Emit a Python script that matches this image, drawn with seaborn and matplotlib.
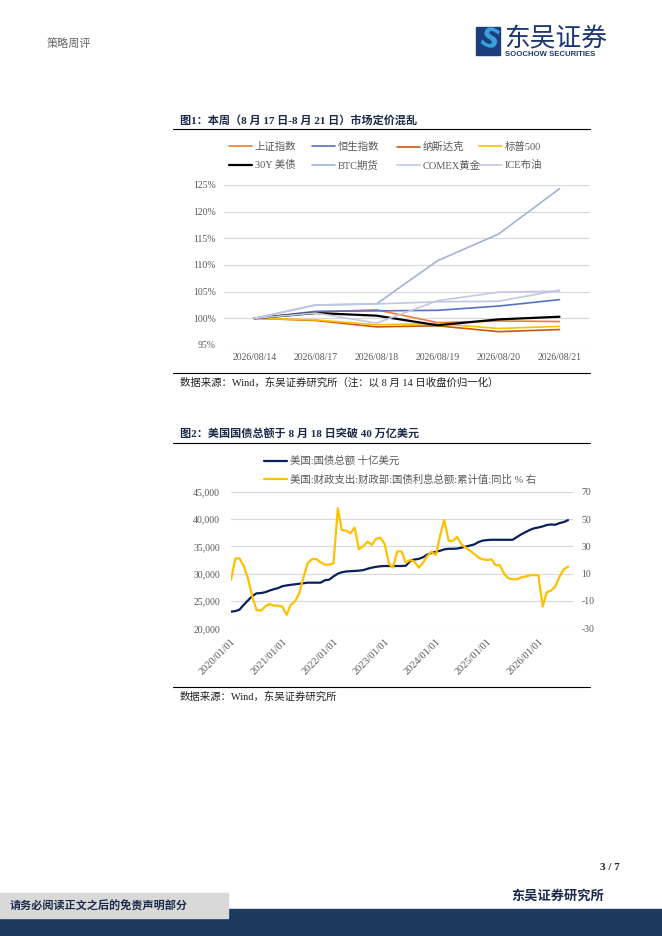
import matplotlib
matplotlib.use("Agg")
import matplotlib.pyplot as plt
import matplotlib.dates as mdates
from matplotlib.patches import Rectangle, Polygon
from matplotlib.lines import Line2D
from matplotlib.ticker import FuncFormatter
import pandas as pd
import seaborn as sns

# ---- 图1 data: normalised to 8/14 close (%) ----
days = ["2026/08/14", "2026/08/17", "2026/08/18", "2026/08/19", "2026/08/20", "2026/08/21"]
sse = [100, 101.2, 101.6, 99.2, 99.5, 99.4]
hsi = [100, 101.3, 101.4, 101.5, 102.3, 103.5]
nasdaq = [100, 99.6, 98.4, 98.6, 97.5, 97.9]
spx = [100, 99.7, 98.8, 99.0, 98.1, 98.5]
ust30 = [100, 101.0, 100.5, 98.7, 99.8, 100.3]
btc = [100, 102.5, 102.7, 110.8, 115.8, 124.3]
gold = [100, 102.5, 102.7, 103.1, 103.2, 105.3]
brent = [100, 101.0, 99.1, 103.3, 104.9, 105.1]

names1 = ["上证指数", "恒生指数", "纳斯达克", "标普500", "30Y 美债", "BTC期货", "COMEX黄金", "ICE布油"]
series1 = [sse, hsi, nasdaq, spx, ust30, btc, gold, brent]
colors1 = ["#ED7D31", "#5672C0", "#C55A11", "#FFC000", "#000000", "#A3B2D9", "#BCC8E6", "#C9C6E4"]

# ---- 图2 data: monthly from 2020-01 ----
debt = [23050, 23150, 23400, 24300, 25100, 25900, 26400, 26450, 26600, 26900, 27150, 27350,
        27700, 27850, 27950, 28050, 28150, 28250, 28350, 28350, 28350, 28350, 28800, 28900,
        29500, 30000, 30250, 30400, 30450, 30500, 30550, 30650, 30900, 31100, 31250, 31350,
        31400, 31400, 31400, 31400, 31400, 31450, 32300, 32600, 32700, 33000, 33500, 33800,
        34000, 34200, 34450, 34550, 34550, 34600, 34750, 34950, 35150, 35350, 35800, 36050,
        36150, 36200, 36200, 36200, 36200, 36200, 36200, 36700, 37200, 37600, 38000, 38300,
        38450, 38650, 38900, 39000, 38950, 39250, 39450, 39800]
interest_yoy = [5.4, 21.2, 21.2, 15.6, 6.6, -6.8, -16.6, -17.1, -14.1, -12.2, -13.4, -13.4,
                -14.1, -20.2, -12.9, -10.5, -4.4, 7.3, 17.6, 20.7, 20.7, 18.3, 16.6, 16.6,
                17.6, 57.8, 42.0, 41.5, 39.5, 43.7, 27.8, 30.2, 33.4, 31.0, 35.6, 36.3,
                31.7, 17.0, 14.4, 26.3, 26.3, 18.0, 20.0, 18.8, 14.4, 18.0, 22.9, 26.1,
                23.7, 38.3, 49.3, 34.1, 33.9, 37.0, 31.5, 29.0, 26.8, 24.4, 21.7, 20.5,
                20.0, 20.5, 16.3, 16.1, 10.2, 6.6, 5.9, 5.9, 7.3, 7.8, 8.8, 9.0,
                8.8, -14.1, -3.7, -2.4, 0.5, 7.8, 13.2, 15.1]
months = pd.date_range("2020-01-01", periods=len(debt), freq="MS")
label_debt = "美国:国债总额 十亿美元"
label_yoy = "美国:财政支出:财政部:国债利息总额:累计值:同比 % 右"

sns.set_style("white")
plt.rcParams["font.family"] = ["Liberation Serif", "Noto Sans CJK SC"]
plt.rcParams["axes.unicode_minus"] = False

W, H = 662, 936
fig = plt.figure(figsize=(W / 100, H / 100), dpi=100)


def fx(x):
    return x / W


def fy(y):
    return 1 - y / H


def hline(x0, x1, y, color="black", lw=0.8):
    fig.add_artist(Line2D([fx(x0), fx(x1)], [fy(y), fy(y)], color=color, lw=lw,
                          transform=fig.transFigure))


grey = "#595959"
navy_txt = "#1A2A4A"

# ---- header ----
fig.text(fx(47), fy(43), "策略周评", fontsize=8, color="#666666", va="center")
fig.add_artist(Polygon([[fx(476), fy(27)], [fx(500), fy(27)], [fx(500), fy(55)], [fx(476), fy(55)]],
                       closed=True, color="#1B3F7C", transform=fig.transFigure))
fig.text(fx(488), fy(41), "S", fontsize=19, color="#3BA3DF", fontweight="bold",
         family="DejaVu Sans", ha="center", va="center", rotation=-20)
fig.text(fx(504), fy(39), "东吴证券", fontsize=18.5, color="#1B3770",
         family="Noto Sans CJK SC", va="center")
fig.text(fx(505), fy(54), "SOOCHOW SECURITIES", fontsize=5.6, color="#1B3770",
         family="Liberation Sans", fontweight="bold", va="center")

# ---- 图1 ----
fig.text(fx(180), fy(120), "图1：本周（8 月 17 日-8 月 21 日）市场定价混乱", fontsize=8,
         fontweight="bold", color=navy_txt, va="center")
hline(173, 590, 129)

df1 = pd.DataFrame({"pos": list(range(len(days))) * len(names1),
                    "value": [v for s in series1 for v in s],
                    "series": [n for n in names1 for _ in days]})

ax1 = fig.add_axes([fx(224), fy(345), fx(590) - fx(224), fy(185) - fy(345)])
for name, col in zip(names1, colors1):
    sns.lineplot(data=df1[df1["series"] == name], x="pos", y="value", color=col,
                 lw=1.6 if name == "30Y 美债" else 1.2, label=name, ax=ax1, legend=False)
ax1.set_xlim(-0.5, 5.5)
ax1.set_ylim(95, 125)
ax1.set_yticks(range(95, 126, 5))
ax1.yaxis.set_major_formatter(FuncFormatter(lambda v, p: f"{v:.0f}%"))
ax1.set_xticks(range(len(days)))
ax1.set_xticklabels(days)
ax1.grid(axis="y", color="#D9D9D9", lw=0.8)
ax1.set_xlabel("")
ax1.set_ylabel("")
for s in ax1.spines.values():
    s.set_visible(False)
ax1.tick_params(axis="both", length=0, colors=grey, labelsize=7, pad=6)

# legend laid out like the source: four fixed columns, two rows
h = ax1.get_lines()
col_x = [229, 312, 397, 479]
for c, x in enumerate(col_x):
    leg = ax1.legend([h[c], h[c + 4]], [names1[c], names1[c + 4]], loc="upper left",
                     bbox_to_anchor=(fx(x), fy(142)), bbox_transform=fig.transFigure,
                     frameon=False, fontsize=7.5, handlelength=2.2, handletextpad=0.25,
                     labelspacing=0.8, labelcolor=grey, borderaxespad=0, borderpad=0)
    if c < 3:
        ax1.add_artist(leg)

hline(173, 590, 373)
fig.text(fx(180), fy(383), "数据来源：Wind，东吴证券研究所（注：以 8 月 14 日收盘价归一化）",
         fontsize=7.5, color="#222222", va="center")

# ---- 图2 ----
fig.text(fx(180), fy(433), "图2：美国国债总额于 8 月 18 日突破 40 万亿美元", fontsize=8,
         fontweight="bold", color=navy_txt, va="center")
hline(173, 590, 443)

df2 = pd.DataFrame({"date": months, "debt": debt, "yoy": interest_yoy})
ax2 = fig.add_axes([fx(231), fy(628.3), fx(573) - fx(231), fy(491.7) - fy(628.3)])
ax3 = ax2.twinx()
sns.lineplot(data=df2, x="date", y="debt", color="#0B1F5C", lw=1.6, ax=ax2, legend=False)
sns.lineplot(data=df2, x="date", y="yoy", color="#FFC000", lw=1.6, ax=ax3, legend=False)
ax2.set_ylim(20000, 45000)
ax2.set_yticks(range(20000, 45001, 5000))
ax2.yaxis.set_major_formatter(FuncFormatter(lambda v, p: f"{v:,.0f}"))
ax3.set_ylim(-30, 70)
ax3.set_yticks(range(-30, 71, 20))
ax2.set_xlim(pd.Timestamp("2020-01-01"), pd.Timestamp("2026-09-05"))
ax2.xaxis.set_major_locator(mdates.YearLocator())
ax2.xaxis.set_major_formatter(mdates.DateFormatter("%Y/%m/%d"))
ax2.grid(axis="y", color="#D9D9D9", lw=0.8)
for a in (ax2, ax3):
    a.set_xlabel("")
    a.set_ylabel("")
    for s in a.spines.values():
        s.set_visible(False)
ax2.tick_params(axis="y", length=0, colors=grey, labelsize=7, pad=8)
ax3.tick_params(axis="y", length=0, colors=grey, labelsize=7, pad=6)
ax2.tick_params(axis="x", length=4, color="#D9D9D9", labelcolor=grey, labelsize=7.5, pad=2)
for lbl in ax2.get_xticklabels():
    lbl.set_rotation(45)
    lbl.set_ha("right")
    lbl.set_rotation_mode("anchor")

handles = [Line2D([], [], color="#0B1F5C", lw=1.6), Line2D([], [], color="#FFC000", lw=1.6)]
fig.legend(handles, [label_debt, label_yoy], loc="upper left",
           bbox_to_anchor=(fx(264), fy(456)), frameon=False, fontsize=7.5,
           handlelength=2.2, handletextpad=0.3, labelspacing=0.75, labelcolor=grey,
           borderaxespad=0, borderpad=0)

hline(173, 590, 687)
fig.text(fx(180), fy(697), "数据来源：Wind，东吴证券研究所", fontsize=7.5, color="#222222",
         va="center")

# ---- footer ----
fig.text(fx(620), fy(868), "3 / 7", fontsize=8, fontweight="bold", ha="right", va="center",
         color="#222222")
fig.text(fx(604), fy(896), "东吴证券研究所", fontsize=9.5, fontweight="bold", ha="right",
         va="center", color=navy_txt)
fig.add_artist(Rectangle((0, fy(936)), 1, fy(909) - fy(936), color="#1B3A5E",
                         transform=fig.transFigure))
fig.add_artist(Rectangle((0, fy(918)), fx(228), fy(893) - fy(918), color="#D9D9D9",
                         transform=fig.transFigure))
fig.text(fx(10), fy(906), "请务必阅读正文之后的免责声明部分", fontsize=8, fontweight="bold",
         va="center", color=navy_txt)

fig.savefig("out.png", dpi=100)
